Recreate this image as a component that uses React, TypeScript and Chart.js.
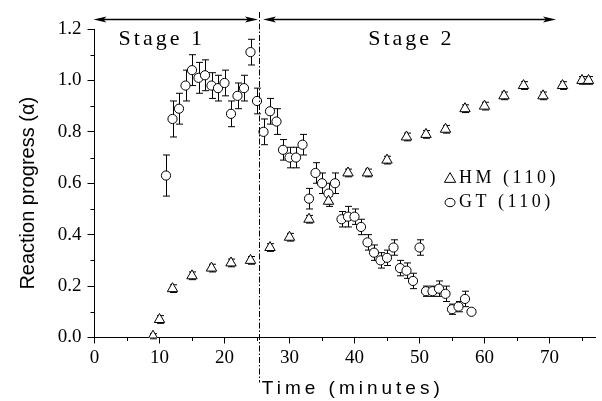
import React, { useEffect, useRef } from "react";
import { Chart, registerables } from "chart.js";

Chart.register(...registerables);

// ---------- data ----------
const hmTime = [9, 10, 12, 15, 18, 21, 24, 27, 30, 33, 36, 39, 42, 45, 48, 51, 54, 57, 60, 63, 66, 69, 72, 75, 76];
const hmAlpha = [0.005, 0.07, 0.19, 0.24, 0.27, 0.29, 0.3, 0.35, 0.39, 0.46, 0.53, 0.64, 0.64, 0.69, 0.78, 0.79, 0.81, 0.89, 0.9, 0.94, 0.98, 0.94, 0.98, 1.0, 1.0];
const hmError = [0.01, 0.015, 0.015, 0.015, 0.015, 0.015, 0.015, 0.015, 0.015, 0.015, 0.02, 0.015, 0.015, 0.015, 0.015, 0.015, 0.015, 0.015, 0.015, 0.015, 0.015, 0.015, 0.015, 0.015, 0.015];

const gtTime = [11, 12, 13, 14, 15, 16, 17, 18, 19, 20, 21, 22, 23, 24, 25, 26, 27, 28, 29, 30, 31, 32, 33, 34, 35, 36, 37, 38, 39, 40, 41, 42, 43, 44, 45, 46, 47, 48, 49, 50, 51, 52, 53, 54, 55, 56, 57, 58];
const gtAlpha = [0.63, 0.85, 0.89, 0.98, 1.04, 1.01, 1.02, 0.98, 0.97, 0.99, 0.87, 0.94, 0.97, 1.11, 0.92, 0.8, 0.88, 0.84, 0.73, 0.7, 0.7, 0.75, 0.54, 0.64, 0.6, 0.56, 0.6, 0.46, 0.47, 0.47, 0.43, 0.37, 0.33, 0.3, 0.31, 0.35, 0.27, 0.26, 0.22, 0.35, 0.18, 0.18, 0.19, 0.17, 0.11, 0.12, 0.15, 0.1];
const gtError = [0.08, 0.07, 0.06, 0.06, 0.06, 0.06, 0.06, 0.05, 0.05, 0.05, 0.05, 0.05, 0.05, 0.05, 0.05, 0.05, 0.05, 0.05, 0.04, 0.04, 0.04, 0.04, 0.04, 0.04, 0.04, 0.04, 0.04, 0.03, 0.04, 0.03, 0.03, 0.03, 0.03, 0.03, 0.03, 0.03, 0.03, 0.03, 0.03, 0.03, 0.02, 0.02, 0.03, 0.03, 0.02, 0.02, 0.03, 0.0];

const seriesLabels = ["HM (110)", "GT (110)"];
const stageLabels = ["Stage 1", "Stage 2"];
const stageBoundary = 25.25; // minutes
const stageEnd = 71; // minutes
const stageLabelTime = [3.7, 42.1];
const stageLabelAlpha = 1.138;
const legendTime = 54.7;
const legendAlpha = [0.62, 0.525];

const xMinorTicks = [5, 15, 25, 35, 45, 55, 65, 75];
const yMinorTicks = [0.1, 0.3, 0.5, 0.7, 0.9, 1.1];

const xTitle = "Time (minutes)";
const yTitle = "Reaction progress (\u03b1)";

const SERIF = "'Liberation Serif', 'Times New Roman', serif";
const SANS = "'Liberation Sans', Arial, sans-serif";

function drawTriangle(ctx: CanvasRenderingContext2D, x: number, y: number, r: number) {
  ctx.beginPath();
  for (let i = 0; i < 3; i++) {
    const a = (i * 2 * Math.PI) / 3;
    const px = x + Math.sin(a) * r;
    const py = y - Math.cos(a) * r;
    if (i === 0) ctx.moveTo(px, py);
    else ctx.lineTo(px, py);
  }
  ctx.closePath();
  ctx.fillStyle = "#fff";
  ctx.fill();
  ctx.stroke();
}

function drawArrowHead(ctx: CanvasRenderingContext2D, x: number, y: number, dir: number) {
  ctx.beginPath();
  ctx.moveTo(x, y);
  ctx.lineTo(x - dir * 13, y - 3);
  ctx.lineTo(x - dir * 10, y);
  ctx.lineTo(x - dir * 13, y + 3);
  ctx.closePath();
  ctx.fill();
}

const errorBarPlugin = {
  id: "errorBars",
  beforeDatasetsDraw(chart: any) {
    const { ctx } = chart;
    const xs = chart.scales.x;
    const ys = chart.scales.y;
    const sets = [
      { t: hmTime, v: hmAlpha, e: hmError },
      { t: gtTime, v: gtAlpha, e: gtError },
    ];
    ctx.save();
    ctx.strokeStyle = "#000";
    ctx.lineWidth = 1;
    sets.forEach((s) => {
      s.t.forEach((t, i) => {
        const e = s.e[i];
        if (!e) return;
        const x = Math.round(xs.getPixelForValue(t)) + 0.5;
        const y1 = ys.getPixelForValue(s.v[i] - e);
        const y2 = ys.getPixelForValue(s.v[i] + e);
        ctx.beginPath();
        ctx.moveTo(x, y1);
        ctx.lineTo(x, y2);
        ctx.moveTo(x - 3.5, y1);
        ctx.lineTo(x + 3.5, y1);
        ctx.moveTo(x - 3.5, y2);
        ctx.lineTo(x + 3.5, y2);
        ctx.stroke();
      });
    });
    ctx.restore();
  },
};

const decorPlugin = {
  id: "decor",
  afterDraw(chart: any) {
    const { ctx, chartArea } = chart;
    const xs = chart.scales.x;
    const ys = chart.scales.y;
    ctx.save();
    ctx.strokeStyle = "#000";
    ctx.fillStyle = "#000";
    ctx.lineWidth = 1;

    // minor ticks
    ctx.beginPath();
    xMinorTicks.forEach((t) => {
      const x = Math.round(xs.getPixelForValue(t)) + 0.5;
      ctx.moveTo(x, chartArea.bottom);
      ctx.lineTo(x, chartArea.bottom + 3.5);
    });
    yMinorTicks.forEach((v) => {
      const y = Math.round(ys.getPixelForValue(v)) + 0.5;
      ctx.moveTo(chartArea.left, y);
      ctx.lineTo(chartArea.left - 4, y);
    });
    ctx.stroke();

    // stage boundary dash-dot line
    const xb = Math.round(xs.getPixelForValue(stageBoundary)) + 0.5;
    ctx.setLineDash([6, 2, 1.5, 2]);
    ctx.beginPath();
    ctx.moveTo(xb, chartArea.top - 17);
    ctx.lineTo(xb, chartArea.bottom + 45);
    ctx.stroke();
    ctx.setLineDash([]);

    // stage arrows
    const ya = chartArea.top - 9.5;
    const x0 = xs.getPixelForValue(0) - 1;
    const xe = xs.getPixelForValue(stageEnd);
    ctx.lineWidth = 1.5;
    ctx.beginPath();
    ctx.moveTo(x0 + 8, ya);
    ctx.lineTo(xb - 9, ya);
    ctx.moveTo(xb + 12, ya);
    ctx.lineTo(xe - 8, ya);
    ctx.stroke();
    drawArrowHead(ctx, x0, ya, -1);
    drawArrowHead(ctx, xb - 1.5, ya, 1);
    drawArrowHead(ctx, xb + 3.5, ya, -1);
    drawArrowHead(ctx, xe, ya, 1);
    ctx.lineWidth = 1;

    // stage labels
    ctx.font = `22px ${SERIF}`;
    (ctx as any).letterSpacing = "3px";
    ctx.textAlign = "left";
    ctx.textBaseline = "alphabetic";
    stageLabels.forEach((s, i) => {
      ctx.fillText(s, xs.getPixelForValue(stageLabelTime[i]), ys.getPixelForValue(stageLabelAlpha));
    });

    // legend
    const lx = xs.getPixelForValue(legendTime);
    const ly0 = ys.getPixelForValue(legendAlpha[0]);
    const ly1 = ys.getPixelForValue(legendAlpha[1]);
    drawTriangle(ctx, lx, ly0 + 1, 6.5);
    ctx.beginPath();
    ctx.ellipse(lx, ly1, 5, 4.2, 0, 0, Math.PI * 2);
    ctx.fillStyle = "#fff";
    ctx.fill();
    ctx.stroke();
    ctx.fillStyle = "#000";
    ctx.font = `18px ${SERIF}`;
    (ctx as any).letterSpacing = "3.5px";
    ctx.textBaseline = "middle";
    ctx.fillText(seriesLabels[0], lx + 9, ly0);
    ctx.fillText(seriesLabels[1], lx + 9, ly1);

    // axis titles
    ctx.font = `19px ${SANS}`;
    (ctx as any).letterSpacing = "4px";
    ctx.textAlign = "center";
    ctx.textBaseline = "alphabetic";
    ctx.fillText(xTitle, (chartArea.left + chartArea.right) / 2 + 8, chartArea.bottom + 56);

    (ctx as any).letterSpacing = "0px";
    ctx.font = `20px ${SANS}`;
    ctx.translate(chartArea.left - 66, (chartArea.top + chartArea.bottom) / 2 + 10);
    ctx.rotate(-Math.PI / 2);
    ctx.textAlign = "center";
    ctx.textBaseline = "middle";
    ctx.fillText(yTitle, 0, 0);
    ctx.restore();
  },
};

export default function App() {
  const canvasRef = useRef<HTMLCanvasElement | null>(null);

  useEffect(() => {
    document.body.style.margin = "0";
    const canvas = canvasRef.current;
    if (!canvas) return;
    const chart = new Chart(canvas, {
      type: "scatter",
      data: {
        datasets: [
          {
            label: seriesLabels[0],
            data: hmTime.map((t, i) => ({ x: t, y: hmAlpha[i] })),
            pointStyle: "triangle",
            pointRadius: 6,
            pointBorderColor: "#000",
            pointBackgroundColor: "#fff",
            pointBorderWidth: 1,
            showLine: false,
          },
          {
            label: seriesLabels[1],
            data: gtTime.map((t, i) => ({ x: t, y: gtAlpha[i] })),
            pointStyle: "circle",
            pointRadius: 4.6,
            pointBorderColor: "#000",
            pointBackgroundColor: "#fff",
            pointBorderWidth: 1,
            showLine: false,
          },
        ],
      },
      options: {
        animation: false,
        responsive: true,
        maintainAspectRatio: false,
        layout: { padding: { top: 29, right: 3, left: 0, bottom: 0 } },
        plugins: {
          legend: { display: false },
          tooltip: { enabled: false },
        },
        scales: {
          x: {
            type: "linear",
            min: 0,
            max: 77,
            afterFit: (scale: any) => {
              scale.height = 63.5;
            },
            ticks: {
              stepSize: 10,
              includeBounds: false,
              color: "#000",
              padding: 3,
              font: { family: SERIF, size: 19 },
              maxRotation: 0,
            },
            grid: { drawOnChartArea: false, drawTicks: true, tickLength: 6, color: "#000" },
            border: { color: "#000", width: 1 },
          },
          y: {
            type: "linear",
            min: 0,
            max: 1.2,
            afterFit: (scale: any) => {
              scale.width = 94.5;
            },
            ticks: {
              stepSize: 0.2,
              includeBounds: false,
              color: "#000",
              padding: 6,
              font: { family: SERIF, size: 19 },
              callback: (v: any) => Number(v).toFixed(1),
            },
            grid: { drawOnChartArea: false, drawTicks: true, tickLength: 7, color: "#000" },
            border: { color: "#000", width: 1 },
          },
        },
      },
      plugins: [errorBarPlugin, decorPlugin],
    });
    return () => chart.destroy();
  }, []);

  return (
    <div style={{ width: 602, height: 401, position: "relative", background: "#fff" }}>
      <canvas ref={canvasRef} />
    </div>
  );
}
